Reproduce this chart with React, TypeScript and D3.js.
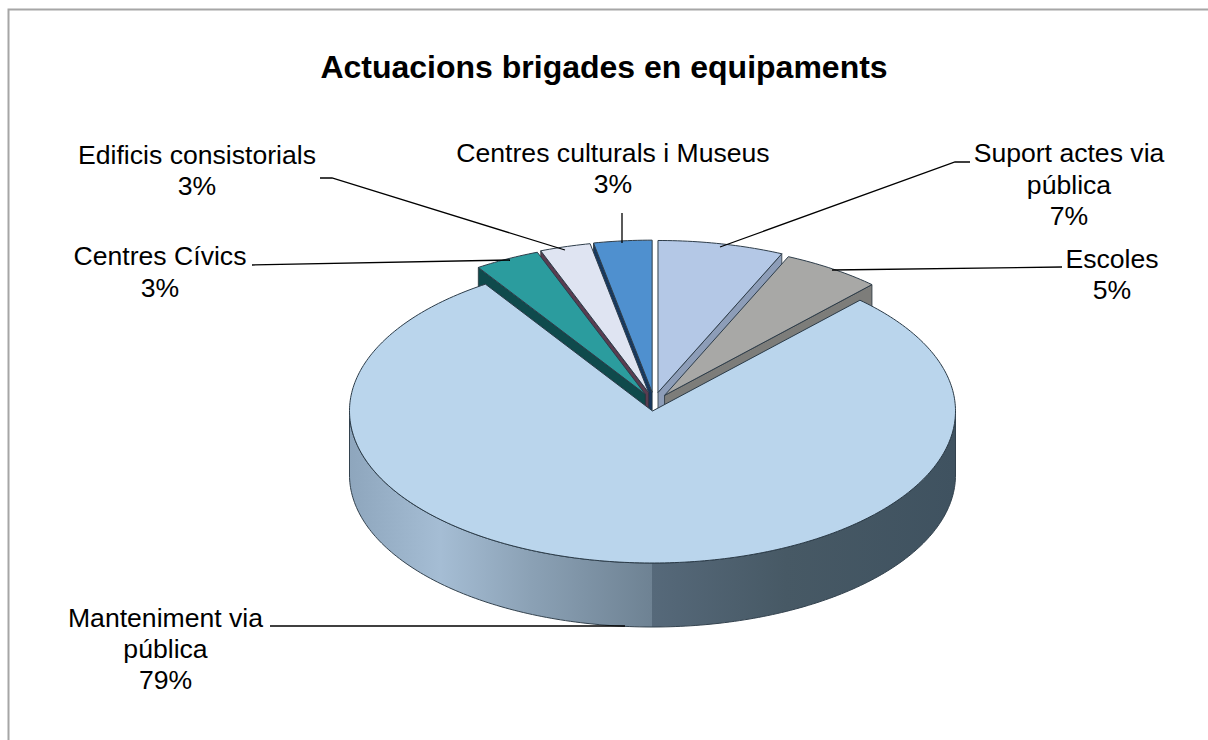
import React from "react";
import * as d3 from "d3";

const categories = ["Suport actes via pública", "Escoles", "Manteniment via pública", "Centres Cívics", "Edificis consistorials", "Centres culturals i Museus"];
const shares = [6.7, 5.3, 78.7, 3.49, 2.7, 3.1];
const faceColors = ["#b4c8e6", "#a8a8a6", "#bad5ec", "#2b9c9e", "#dfe4f2", "#4f90cf"];
const wallColors = ["#8d9db8", "#7d7d7a", "#5d7283", "#0f4a4c", "#5a3c50", "#17385f"];
const explodedOrder = [5, 4, 3, 0, 1];
const mainIndex = 2;

const titleText = "Actuacions brigades en equipaments";

const labelLayouts = [
  { lines: ["Suport actes via", "pública"], x: 1069, y: 162, lh: 31.5, leader: [[970, 162], [955, 162], [720, 247]] },
  { lines: ["Escoles"], x: 1112, y: 268, lh: 31, leader: [[1062, 267], [832, 270]] },
  { lines: ["Manteniment via", "pública"], x: 165.5, y: 627, lh: 31, leader: [[270, 626], [625, 626]] },
  { lines: ["Centres Cívics"], x: 160, y: 265, lh: 32, leader: [[252, 265], [510, 260]] },
  { lines: ["Edificis consistorials"], x: 197, y: 164, lh: 30.5, leader: [[320, 178], [332, 178], [565, 250]] },
  { lines: ["Centres culturals i Museus"], x: 613, y: 162, lh: 31, leader: [[622, 213], [622, 243]] },
];

const cx = 652.5, cy = 411, rx = 303, ry = 152, depth = 64;
const explode = 19, explodeY = 1.05, nudgeX = 1.5, nudgeY = 1;
const sx = d3.scaleLinear().domain([-1, 1]).range([cx - rx, cx + rx]);
const sy = d3.scaleLinear().domain([-1, 1]).range([cy + ry, cy - ry]);

const arcs = d3.pie<number>().sort(null).value((d) => d)(shares);

type P = [number, number];
const onRim = (a: number, ox: number, oy: number): P => [sx(Math.sin(a)) + ox, sy(Math.cos(a)) + oy];
const rimPoints = (a0: number, a1: number, ox: number, oy: number): P[] => {
  const n = Math.max(2, Math.ceil(Math.abs(a1 - a0) * 60));
  return d3.range(n + 1).map((i) => onRim(a0 + ((a1 - a0) * i) / n, ox, oy));
};
const path = d3.line<P>().x((d) => d[0]).y((d) => d[1]);
const closed = (pts: P[]) => (path(pts) as string) + "Z";

const offsetOf = (a: d3.PieArcDatum<number>): P => {
  const m = (a.startAngle + a.endAngle) / 2;
  return [explode * Math.sin(m) + nudgeX, -explode * explodeY * Math.cos(m) + nudgeY];
};

export default function App() {
  const main = arcs[mainIndex];
  const frontPts = rimPoints(Math.PI / 2, (3 * Math.PI) / 2, 0, 0);
  const wallPts = [...frontPts, ...frontPts.map(([x, y]) => [x, y + depth] as P).reverse()];
  const mainFace: P[] = [[cx, cy], ...rimPoints(main.startAngle, main.endAngle, 0, 0)];
  return (
    <svg width={1208} height={740} style={{ position: "fixed", left: 0, top: 0, background: "#fff" }} fontFamily="'Liberation Sans', Arial, sans-serif">
      <defs>
        <linearGradient id="wallGrad" gradientUnits="userSpaceOnUse" x1={cx - rx} x2={cx + rx} y1={0} y2={0}>
          <stop offset="0" stopColor="#8ea6bd" />
          <stop offset="0.15" stopColor="#a5bdd4" />
          <stop offset="0.3" stopColor="#8ba1b5" />
          <stop offset="0.499" stopColor="#6e8293" />
          <stop offset="0.5" stopColor="#56697a" />
          <stop offset="0.72" stopColor="#475965" />
          <stop offset="1" stopColor="#3f5260" />
        </linearGradient>
      </defs>
      <path d="M8.5 741V9.5H1209" fill="none" stroke="#a6a6a6" strokeWidth={2} />
      <text x={604} y={78} textAnchor="middle" fontSize={32} fontWeight={700} fill="#000">{titleText}</text>

      {explodedOrder.map((i) => {
        const a = arcs[i];
        const [ox, oy] = offsetOf(a);
        const left = a.startAngle > Math.PI;
        const edge = left ? a.startAngle : a.endAngle;
        const apex: P = [cx + ox, cy + oy];
        const rim = onRim(edge, ox, oy);
        const wall: P[] = [apex, rim, [rim[0], rim[1] + depth], [apex[0], apex[1] + depth]];
        const face: P[] = [apex, ...rimPoints(a.startAngle, a.endAngle, ox, oy)];
        return (
          <g key={categories[i]}>
            <path d={closed(wall)} fill={wallColors[i]} stroke="#26323a" strokeWidth={0.8} />
            <path d={closed(face)} fill={faceColors[i]} stroke="#2e3d4a" strokeWidth={1} strokeLinejoin="round" />
          </g>
        );
      })}

      <path d={closed(wallPts)} fill="url(#wallGrad)" stroke="#33424e" strokeWidth={1} />
      <path d={closed(mainFace)} fill={faceColors[mainIndex]} stroke="#2b3b48" strokeWidth={1} strokeLinejoin="round" />

      {labelLayouts.map((l, i) => (
        <g key={categories[i]}>
          <path d={path(l.leader as P[]) as string} fill="none" stroke="#000" strokeWidth={1.3} />
          <text textAnchor="middle" fontSize={26.6} fill="#000">
            {[...l.lines, `${Math.round(shares[i])}%`].map((t, k) => (
              <tspan key={k} x={l.x} y={l.y + k * l.lh}>{t}</tspan>
            ))}
          </text>
        </g>
      ))}
    </svg>
  );
}
